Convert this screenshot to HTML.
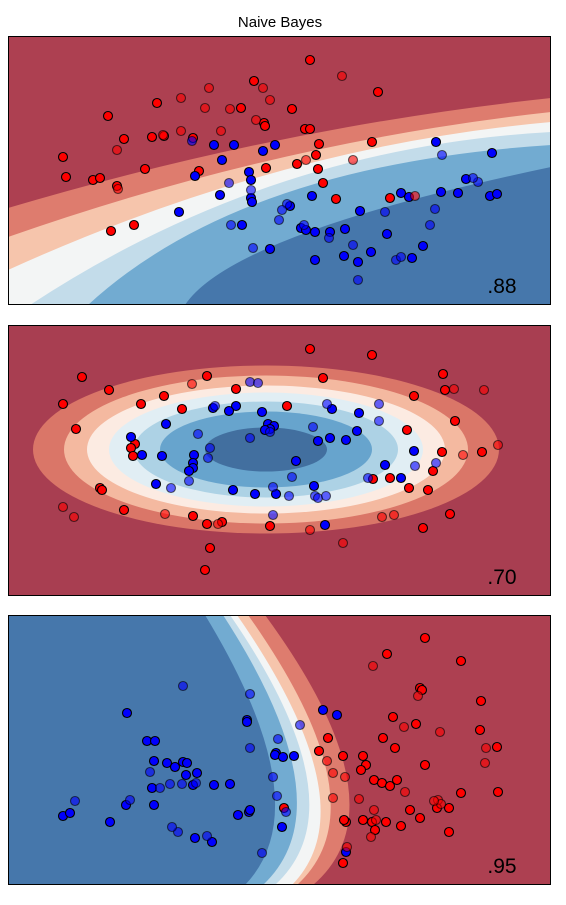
<!DOCTYPE html>
<html><head><meta charset="utf-8"><style>
html,body{margin:0;padding:0;background:#fff;width:566px;height:905px;overflow:hidden}
svg{display:block}
</style></head><body>
<svg id="chart" width="566" height="905" xmlns="http://www.w3.org/2000/svg" font-family="Liberation Sans, DejaVu Sans, sans-serif">
<text x="280" y="27" text-anchor="middle" font-size="15">Naive Bayes</text>
</svg>
<script>
// Panel data (x in 0..543, y in 0..270 data units, y upward)
const scores = [".88", ".70", ".95"];
const p1RedTrain = [[302,245],[370,213],[149,202],[100,189],[233,197],[246,224],[284,196],[256,182],[257,179],[297,176],[302,176],[116,166],[144,168],[156,169],[185,167],[55,148],[58,128],[85,125],[92,127],[137,136],[126,80],[103,74],[191,134],[258,137],[289,141],[311,161],[308,150],[364,163],[310,136],[315,122],[328,106],[382,107],[109,119]];
const p1RedTest = [[334,229],[201,217],[173,207],[255,217],[262,205],[197,197],[222,196],[248,185],[173,174],[155,170],[109,155],[110,116],[345,145],[407,109],[213,174],[298,145]];
const p1BlueTrain = [[187,129],[206,160],[226,160],[214,145],[241,133],[243,125],[255,154],[267,160],[171,93],[212,110],[243,107],[244,103],[234,80],[262,56],[304,109],[282,99],[293,77],[307,73],[298,75],[322,73],[337,76],[352,94],[393,112],[401,108],[379,71],[363,53],[336,49],[350,43],[307,45],[428,163],[484,152],[450,112],[482,109],[489,111],[433,113],[458,126],[415,59],[404,47]];
const p1BlueTest = [[184,164],[221,122],[243,115],[223,80],[245,57],[271,85],[279,101],[274,95],[296,80],[321,67],[345,60],[350,25],[377,93],[422,80],[427,96],[434,150],[470,123],[388,45],[393,48],[465,127]];
const p2RedTrain = [[302,247],[364,241],[435,222],[74,219],[101,206],[199,220],[315,218],[55,192],[68,167],[133,192],[156,200],[174,187],[228,207],[279,190],[406,200],[437,206],[447,175],[399,166],[434,144],[474,144],[425,125],[127,152],[123,148],[125,140],[92,108],[94,106],[116,86],[185,80],[199,72],[262,70],[214,74],[202,48],[415,68],[442,82],[401,108],[420,106],[382,118],[365,117],[197,26]];
const p2RedTest = [[184,212],[446,207],[476,206],[490,151],[455,141],[55,89],[66,79],[157,82],[210,72],[374,79],[386,81],[302,66],[335,53]];
const p2BlueTrain = [[228,190],[221,185],[254,184],[260,172],[266,170],[262,167],[257,166],[205,188],[123,159],[158,172],[154,140],[134,141],[186,141],[185,133],[185,128],[181,125],[148,112],[225,106],[268,102],[247,102],[288,135],[306,110],[324,187],[351,183],[349,165],[322,158],[338,156],[310,155],[377,131],[406,145],[393,118],[317,71]];
const p2BlueTest = [[207,190],[242,214],[250,213],[319,192],[371,192],[371,175],[305,169],[262,164],[202,148],[200,138],[181,115],[163,108],[265,109],[281,100],[284,119],[265,81],[307,100],[310,98],[318,100],[360,118],[407,130],[428,133],[242,158],[190,162]];
const p3BlueTrain = [[119,172],[139,144],[147,144],[146,124],[144,97],[146,80],[118,80],[102,63],[55,69],[62,72],[159,122],[167,118],[175,123],[179,122],[178,110],[185,100],[189,112],[206,100],[222,101],[239,165],[239,163],[268,132],[267,130],[275,128],[286,129],[230,70],[241,73],[242,75],[204,43],[187,47],[274,58],[315,175],[329,170],[338,33]];
const p3BlueTest = [[175,199],[242,191],[142,113],[174,101],[162,101],[152,97],[122,85],[67,84],[188,102],[170,53],[164,58],[199,49],[265,108],[269,89],[278,73],[254,32],[270,146],[242,137],[292,160]];
const p3RedTrain = [[417,247],[379,231],[453,224],[412,197],[414,195],[473,184],[385,168],[408,161],[320,147],[311,134],[335,129],[355,129],[375,147],[387,137],[417,120],[358,120],[353,115],[366,105],[374,102],[389,105],[382,99],[402,75],[429,77],[441,77],[453,92],[490,93],[489,138],[472,155],[338,63],[336,65],[355,65],[364,63],[378,63],[393,59],[412,67],[441,53],[335,22],[367,55],[276,77]];
const p3RedTest = [[365,219],[432,153],[410,189],[396,158],[319,124],[325,112],[337,108],[325,87],[397,93],[366,75],[430,85],[433,81],[478,137],[477,122],[351,86],[368,65],[363,48],[426,84],[339,38]];

const panels = [{top:36,bottom:305},{top:325,bottom:596},{top:615,bottom:885}];
const L = 8, R = 551;
const NS = "http://www.w3.org/2000/svg";
const svg = document.getElementById("chart");
function xs(v){ return L + v; }
function ys(p, v){ return panels[p].bottom - v; }
function mk(tag, attrs, parent){
  const e = document.createElementNS(NS, tag);
  for (const k in attrs) e.setAttribute(k, attrs[k]);
  (parent || svg).appendChild(e);
  return e;
}
const defs = mk("defs", {});
panels.forEach((p, i) => {
  const cp = mk("clipPath", {id: "clip" + i}, defs);
  mk("rect", {x: L, y: p.top, width: R - L, height: p.bottom - p.top}, cp);
});

const C = {dr:"#ad4051", mr:"#de7c6e", pe:"#f6c5ac", wh:"#f3f5f5", lb:"#c3dcea", mb:"#72abd1", db:"#4677ab"};

function qpath(P0, M, P2){
  const cx = 2*M[0] - (P0[0]+P2[0])/2, cy = 2*M[1] - (P0[1]+P2[1])/2;
  return `M${P0[0]},${P0[1]} Q${cx},${cy} ${P2[0]},${P2[1]}`;
}

// Panel 1
(function(){
  const g = mk("g", {"clip-path": "url(#clip0)"});
  
  
  mk("rect", {x: L, y: 36, width: R-L, height: 269, fill: C.dr}, g);
  const bands = [
    [[8,208],[280,140],[551,98], C.mr],
    [[8,237],[280,158],[551,112], C.pe],
    [[8,270],[280,171],[551,122], C.wh],
    [[30,305],[280,183],[551,132], C.lb],
    [[88,305],[280,195],[551,145], C.mb],
    [[185,305],[300,235],[551,167], C.db]
  ];
  bands.forEach(b => {
    const d = qpath(b[0], b[1], b[2]) + ` L560,320 L0,320 L0,${b[0][1]} Z`;
    mk("path", {d: d, fill: b[3]}, g);
  });
})();
// Panel 2
(function(){
  const g = mk("g", {"clip-path": "url(#clip1)"});
  
  
  mk("rect", {x: L, y: 325, width: R-L, height: 271, fill: "#a83e51"}, g);
  const ell = [[233,84,"#da7668"],[202,74,"#f4b9a0"],[179,64,"#fcebe2"],[157,57,"#e1eef4"],[132,48,"#add2e5"],[106,38,"#67a4cd"],[61,22,"#426f9f"]];
  ell.forEach(e => mk("ellipse", {cx: 266, cy: 449.5, rx: e[0], ry: e[1], fill: e[2]}, g));
})();
// Panel 3
(function(){
  const g = mk("g", {"clip-path": "url(#clip2)"});
  
  
  mk("rect", {x: L, y: 615, width: R-L, height: 270, fill: C.dr}, g);
  const bands = [[265,347,313,C.mr],[248,328,297,C.pe],[237,317,292,C.wh],[230,307,275,C.lb],[223,295,263,C.mb],[205,273,245,C.db]];
  bands.forEach(b => {
    const d = qpath([b[0],615],[b[1],778],[b[2],885]) + " L0,885 L0,615 Z";
    mk("path", {d: d, fill: b[3]}, g);
  });
})();

function drawPts(p, arr, fill, op, name){
  arr.forEach(pt => {
    const c = mk("circle", {cx: xs(pt[0]), cy: ys(p, pt[1]), r: 4.5, fill: fill, "fill-opacity": op, stroke: "#000", "stroke-opacity": op, "stroke-width": 1.1});
    
    
  });
}
const sets = [[p1RedTrain,p1RedTest,p1BlueTrain,p1BlueTest],[p2RedTrain,p2RedTest,p2BlueTrain,p2BlueTest],[p3RedTrain,p3RedTest,p3BlueTrain,p3BlueTest]];
sets.forEach((s, i) => {
  drawPts(i, s[0], "#ff0000", 1, "red-train-point");
  drawPts(i, s[2], "#0000ff", 1, "blue-train-point");
  drawPts(i, s[1], "#ff0000", 0.6, "red-test-point");
  drawPts(i, s[3], "#0000ff", 0.6, "blue-test-point");
  const p = panels[i];
  const fr = mk("rect", {x: L+0.5, y: p.top+0.5, width: R-L-1, height: p.bottom-p.top-1, fill: "none", stroke: "#000", "stroke-width": 1});
  
  
  const t = mk("text", {x: 502, y: p.bottom-12, "text-anchor": "middle", "font-size": 21});
  t.textContent = scores[i];
  
  
});
</script>
</body></html>
